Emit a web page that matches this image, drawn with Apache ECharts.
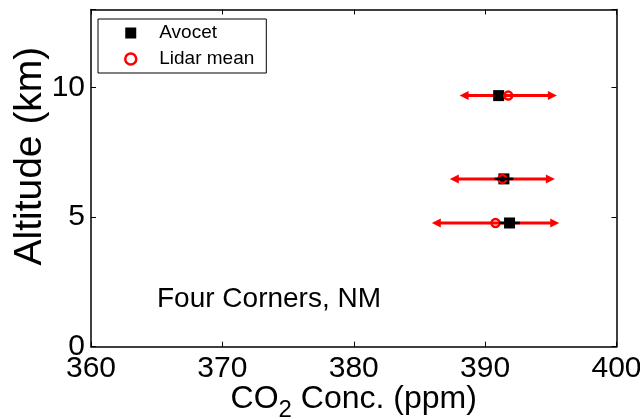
<!DOCTYPE html>
<html>
<head>
<meta charset="utf-8">
<script src="https://cdn.jsdelivr.net/npm/echarts@6/dist/echarts.min.js"></script>
<style>
  html, body { margin: 0; padding: 0; background: #ffffff; }
  #chart { width: 640px; height: 419px; }
</style>
</head>
<body>
<div id="chart"></div>
<script>
// Altitude of each comparison level (km)
const altitudes = [9.68, 6.47, 4.77];
// Avocet in-situ CO2 (ppm) and its spread
const avocetCO2 = [391.03, 391.43, 391.86];
const avocetErr = [0.3, 0.72, 0.8];
// Lidar mean CO2 (ppm) and its spread
const lidarCO2 = [391.76, 391.31, 390.79];
const lidarErr = [3.7, 4.0, 4.85];
// Axis ticks
const xTicks = [360, 370, 380, 390, 400];
const yTicks = [0, 5, 10];

const FONT = 'Liberation Sans, Arial, Helvetica, sans-serif';

const avocetPts = altitudes.map((a, i) => [avocetCO2[i], a]);
const lidarPts = altitudes.map((a, i) => [lidarCO2[i], a]);
const lidarBars = altitudes.map((a, i) => [lidarCO2[i] - lidarErr[i], lidarCO2[i] + lidarErr[i], a]);
const avocetBars = altitudes.map((a, i) => [avocetCO2[i] - avocetErr[i], avocetCO2[i] + avocetErr[i], a]);

// double-headed horizontal arrow between two values at one altitude
function arrowItem(params, api) {
  const p1 = api.coord([api.value(0), api.value(2)]);
  const p2 = api.coord([api.value(1), api.value(2)]);
  const y = p1[1];
  const hl = 9, hw = 4.5;
  return {
    type: 'group',
    children: [
      { type: 'line', shape: { x1: p1[0] + hl - 1, y1: y, x2: p2[0] - hl + 1, y2: y },
        style: { stroke: '#ff0000', lineWidth: 3 } },
      { type: 'polygon', shape: { points: [[p1[0], y], [p1[0] + hl, y - hw], [p1[0] + hl, y + hw]] },
        style: { fill: '#ff0000' } },
      { type: 'polygon', shape: { points: [[p2[0], y], [p2[0] - hl, y - hw], [p2[0] - hl, y + hw]] },
        style: { fill: '#ff0000' } }
    ]
  };
}

// short horizontal bar showing the Avocet spread
function barItem(params, api) {
  const p1 = api.coord([api.value(0), api.value(2)]);
  const p2 = api.coord([api.value(1), api.value(2)]);
  return {
    type: 'line',
    shape: { x1: p1[0], y1: p1[1], x2: p2[0], y2: p2[1] },
    style: { stroke: '#000000', lineWidth: 2.5 }
  };
}

const chart = echarts.init(document.getElementById('chart'), null, { renderer: 'canvas' });

const axisLine = { show: true, onZero: false, lineStyle: { color: '#000', width: 1.5 } };
const axisTick = { show: true, inside: true, length: 5, lineStyle: { color: '#000', width: 1 } };

chart.setOption({
  animation: false,
  backgroundColor: '#ffffff',
  textStyle: { fontFamily: FONT },
  title: {
    text: 'Four Corners, NM',
    left: 157, top: 285, padding: 0,
    textStyle: { fontFamily: FONT, fontSize: 28, fontWeight: 'normal', color: '#000' }
  },
  legend: {
    data: [
      { name: 'Avocet', icon: 'rect' },
      { name: 'Lidar mean', icon: 'circle', itemStyle: { color: 'rgba(255,255,255,0)', borderColor: '#ff0000', borderWidth: 2.5 } }
    ],
    orient: 'vertical',
    left: 98, top: 19,
    padding: [4, 12, 4, 26],
    itemGap: 6,
    itemWidth: 11, itemHeight: 11,
    backgroundColor: '#ffffff',
    borderColor: '#000', borderWidth: 1,
    textStyle: { fontFamily: FONT, fontSize: 19, color: '#000', lineHeight: 20, padding: [0, 0, 0, 18] }
  },
  grid: { left: 91, right: 23.5, top: 9.5, bottom: 72.3, containLabel: false, outerBoundsMode: 'none' },
  xAxis: [
    {
      type: 'value', min: xTicks[0], max: xTicks[xTicks.length - 1], interval: 10,
      position: 'bottom',
      axisLine, axisTick, splitLine: { show: false },
      axisLabel: { margin: 7, fontFamily: FONT, fontSize: 30, color: '#000' },
      name: '{n|CO}{s|2}{n| Conc. (ppm)}',
      nameLocation: 'middle', nameGap: 36, nameMoveOverlap: false,
      nameTextStyle: {
        rich: {
          n: { fontFamily: FONT, fontSize: 32, color: '#000', verticalAlign: 'top', lineHeight: 32 },
          s: { fontFamily: FONT, fontSize: 24, color: '#000', verticalAlign: 'top', lineHeight: 32, padding: [16, 0, 0, 0] }
        }
      }
    },
    {
      type: 'value', min: xTicks[0], max: xTicks[xTicks.length - 1], interval: 10,
      position: 'top',
      axisLine, axisTick, splitLine: { show: false }, axisLabel: { show: false }
    }
  ],
  yAxis: [
    {
      type: 'value', min: 0, max: 13, interval: 5,
      position: 'left',
      axisLine, axisTick, splitLine: { show: false },
      axisLabel: {
        margin: 6, fontFamily: FONT, fontSize: 30, color: '#000',
        formatter: v => (yTicks.indexOf(v) >= 0 ? String(v) : '')
      },
      name: 'Altitude (km)',
      nameLocation: 'middle', nameGap: 41, nameRotate: 90, nameMoveOverlap: false,
      nameTextStyle: { fontFamily: FONT, fontSize: 39, color: '#000', padding: [0, 0, 0, 44] }
    },
    {
      type: 'value', min: 0, max: 13, interval: 5,
      position: 'right',
      axisLine, axisTick, splitLine: { show: false }, axisLabel: { show: false }
    }
  ],
  series: [
    {
      name: 'Lidar range', type: 'custom', renderItem: arrowItem,
      data: lidarBars, encode: { x: [0, 1], y: 2 }, z: 1, silent: true
    },
    {
      name: 'Avocet', type: 'scatter', data: avocetPts,
      symbol: 'rect', symbolSize: 11,
      itemStyle: { color: '#000000', opacity: 1 }, z: 2
    },
    {
      name: 'Lidar mean', type: 'scatter', data: lidarPts,
      symbol: 'circle', symbolSize: 8,
      itemStyle: { color: 'rgba(255,255,255,0)', borderColor: '#ff0000', borderWidth: 2.5, opacity: 1 }, z: 3
    },
    {
      name: 'Avocet range', type: 'custom', renderItem: barItem,
      data: avocetBars, encode: { x: [0, 1], y: 2 }, z: 4, silent: true
    }
  ]
});
</script>
</body>
</html>
